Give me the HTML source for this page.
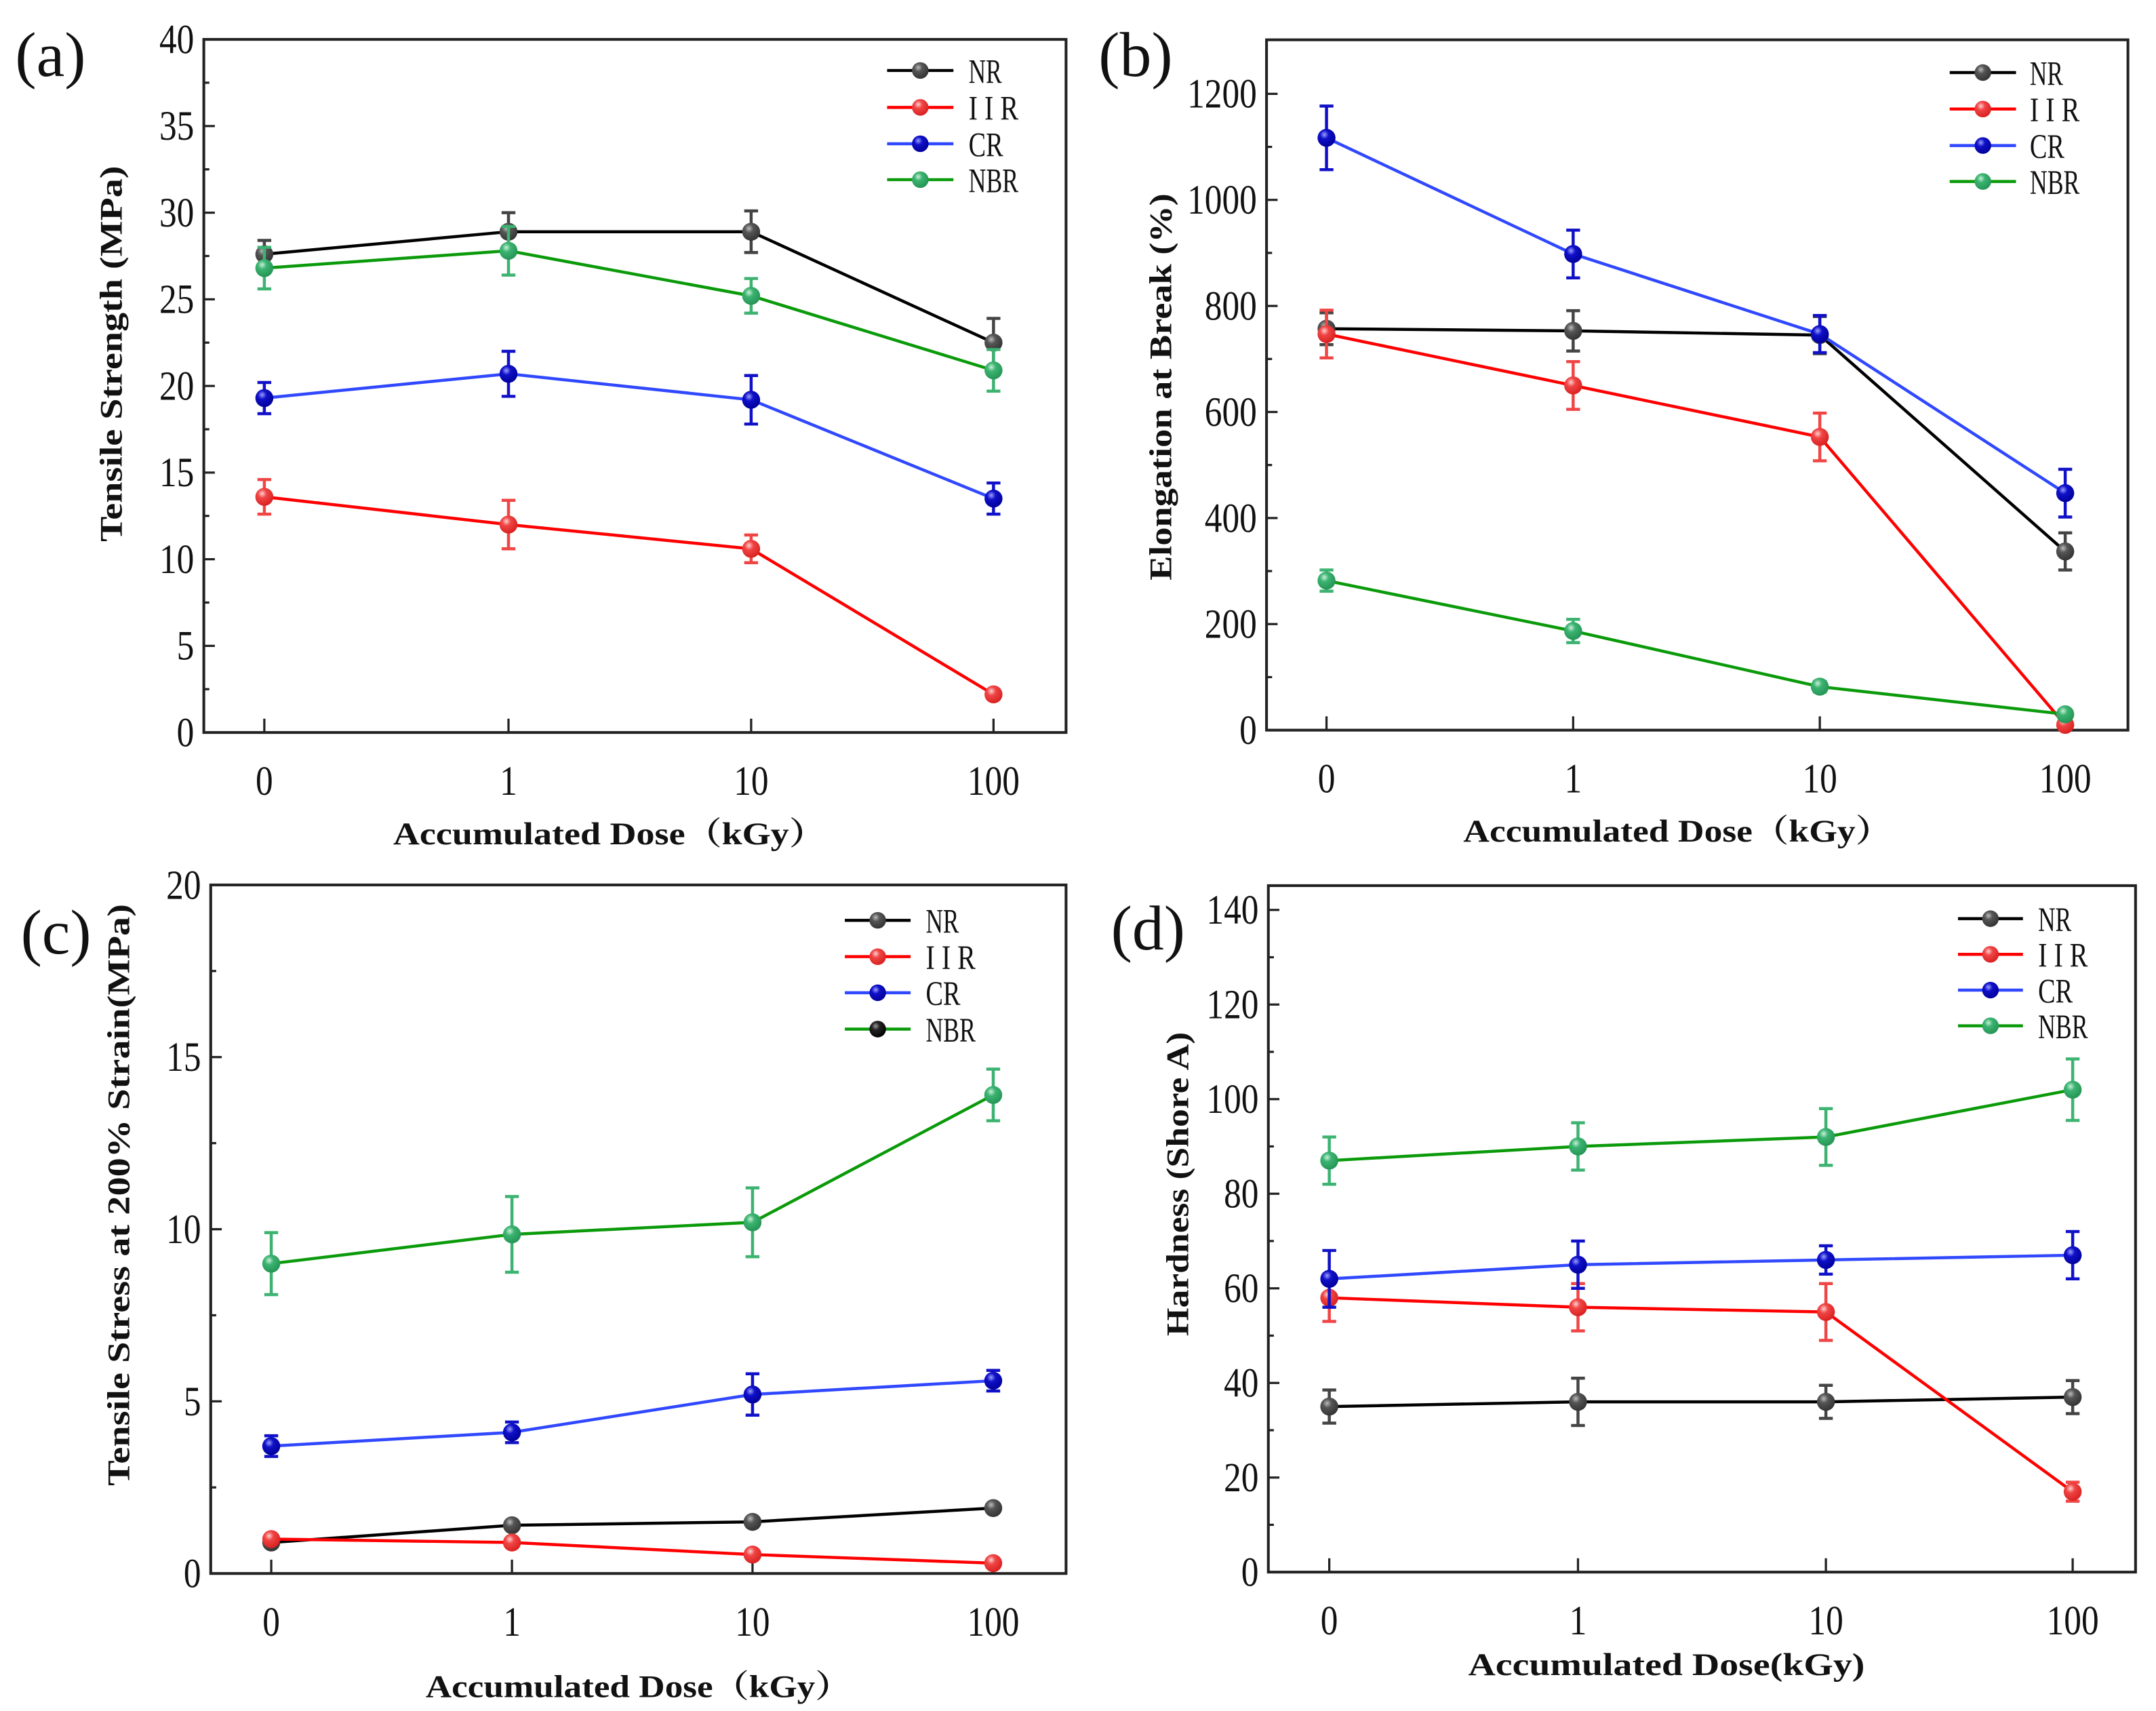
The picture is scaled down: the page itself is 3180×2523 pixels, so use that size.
<!DOCTYPE html>
<html><head><meta charset="utf-8"><style>
html,body{margin:0;padding:0;background:#fff;}
svg{display:block;}
text{font-family:"Liberation Serif",serif;fill:#111;}
</style></head><body>
<svg id="fig" xmlns="http://www.w3.org/2000/svg" width="3180" height="2523" viewBox="0 0 1560.3 1238" preserveAspectRatio="none">
<defs>
<radialGradient id="gNR" cx="0.38" cy="0.32" r="0.7"><stop offset="0" stop-color="#bbb"/><stop offset="0.35" stop-color="#555"/><stop offset="1" stop-color="#333"/></radialGradient>
<radialGradient id="gIIR" cx="0.38" cy="0.32" r="0.7"><stop offset="0" stop-color="#ffd0d0"/><stop offset="0.35" stop-color="#f04545"/><stop offset="1" stop-color="#d82020"/></radialGradient>
<radialGradient id="gCR" cx="0.38" cy="0.32" r="0.7"><stop offset="0" stop-color="#9aa0ff"/><stop offset="0.35" stop-color="#1010c8"/><stop offset="1" stop-color="#00009a"/></radialGradient>
<radialGradient id="gNBR" cx="0.38" cy="0.32" r="0.7"><stop offset="0" stop-color="#c8f0d8"/><stop offset="0.35" stop-color="#3cb371"/><stop offset="1" stop-color="#249455"/></radialGradient>
<radialGradient id="gBLK" cx="0.38" cy="0.32" r="0.7"><stop offset="0" stop-color="#999"/><stop offset="0.35" stop-color="#222"/><stop offset="1" stop-color="#000"/></radialGradient>
</defs>
</svg>
<script>
// ---- data ----
const categories = ["0","1","10","100"];
const seriesNames = ["NR","IIR","CR","NBR"];
// (a) tensile strength
const aNR = [27.6,28.9,28.9,22.5], aNRerr = [0.8,1.1,1.2,1.4];
const aIIR = [13.6,12.0,10.6,2.2], aIIRerr = [1.0,1.4,0.8,0.2];
const aCR = [19.3,20.7,19.2,13.5], aCRerr = [0.9,1.3,1.4,0.9];
const aNBR = [26.8,27.8,25.2,20.9], aNBRerr = [1.2,1.4,1.0,1.2];
const aTicks = [0,5,10,15,20,25,30,35,40];
// (b) elongation at break
const bNR = [757,753,745,337], bNRerr = [30,38,35,35];
const bIIR = [747,650,553,10], bIIRerr = [45,45,45,5];
const bCR = [1117,898,747,447], bCRerr = [60,45,35,45];
const bNBR = [282,187,82,30], bNBRerr = [20,22,10,5];
const bTicks = [0,200,400,600,800,1000,1200];
// (c) tensile stress at 200% strain
const cNR = [0.9,1.4,1.5,1.9], cNRerr = [0.08,0.1,0.1,0.1];
const cIIR = [1.0,0.9,0.55,0.3], cIIRerr = [0.08,0.08,0.08,0.05];
const cCR = [3.7,4.1,5.2,5.6], cCRerr = [0.3,0.3,0.6,0.3];
const cNBR = [9.0,9.85,10.2,13.9], cNBRerr = [0.9,1.1,1.0,0.75];
const cTicks = [0,5,10,15,20];
// (d) hardness
const dNR = [35,36,36,37], dNRerr = [3.5,5,3.5,3.5];
const dIIR = [58,56,55,17], dIIRerr = [5,5,6,2];
const dCR = [62,65,66,67], dCRerr = [6,5,3,5];
const dNBR = [87,90,92,102], dNBRerr = [5,5,6,6.5];
const dTicks = [0,20,40,60,80,100,120,140];

const NS = "http://www.w3.org/2000/svg";
const svg = document.getElementById('fig');
function mk(tag, attrs, parent){const e=document.createElementNS(NS,tag);for(const k in attrs)e.setAttribute(k,attrs[k]);(parent||svg).appendChild(e);return e;}
const lineCol = {NR:"#000",IIR:"#ff0000",CR:"#3048ff",NBR:"#0a9a0a"};
const errCol = {NR:"#444",IIR:"#f04545",CR:"#1010c8",NBR:"#3cb371"};

const panels = [
 {id:"a", L:147.5,R:771.5,T:28.5,B:530, ymax:40, ticks:aTicks, minor:2.5, cx:[191.3,368,543.6,719],
  data:{NR:[aNR,aNRerr],IIR:[aIIR,aIIRerr],CR:[aCR,aCRerr],NBR:[aNBR,aNBRerr]},
  label:"(a)", lx:11, ly:55, ytitle:"Tensile Strength (MPa)", ytx:80, yty:256, ytl:272,
  xtitle:"Accumulated Dose（kGy）", xtx:441, xty:611, xtl:313,
  leg:{x1:642,x2:690,tx:701,ys:[51,77.7,104,130]}, legBlackNBR:false},
 {id:"b", L:916.6,R:1540,T:28.8,B:528.3, ymax:null, ticks:bTicks, minor:100, cx:[960,1138.5,1317,1494.6], y1200:67.9,
  data:{NR:[bNR,bNRerr],IIR:[bIIR,bIIRerr],CR:[bCR,bCRerr],NBR:[bNBR,bNBRerr]},
  label:"(b)", lx:795, ly:55, ytitle:"Elongation at Break (%)", ytx:839.5, yty:280, ytl:280,
  xtitle:"Accumulated Dose（kGy）", xtx:1214, xty:609, xtl:310,
  leg:{x1:1411,x2:1459,tx:1469,ys:[52.5,78.9,105.3,131.3]}, legBlackNBR:false},
 {id:"c", L:152.5,R:771.5,T:640.3,B:1138.5, ymax:20, ticks:cTicks, minor:2.5, cx:[196.3,370.5,544.6,718.8],
  data:{NR:[cNR,cNRerr],IIR:[cIIR,cIIRerr],CR:[cCR,cCRerr],NBR:[cNBR,cNBRerr]},
  label:"(c)", lx:15, ly:690, ytitle:"Tensile Stress at 200% Strain(MPa)", ytx:85.4, yty:864.6, ytl:421,
  xtitle:"Accumulated Dose（kGy）", xtx:462, xty:1228, xtl:308,
  leg:{x1:611.4,x2:659,tx:670,ys:[665.9,692.2,718.3,744.6]}, legBlackNBR:true},
 {id:"d", L:917.9,R:1545.5,T:640.8,B:1137.5, ymax:null, ticks:dTicks, minor:10, cx:[962,1142,1321.4,1500], y140:658.4,
  data:{NR:[dNR,dNRerr],IIR:[dIIR,dIIRerr],CR:[dCR,dCRerr],NBR:[dNBR,dNBRerr]},
  label:"(d)", lx:804, ly:687, ytitle:"Hardness (Shore A)", ytx:852, yty:856.7, ytl:220,
  xtitle:"Accumulated Dose(kGy)", xtx:1206, xty:1212, xtl:287,
  leg:{x1:1417,x2:1464,tx:1475,ys:[664.7,690.5,716.4,742.2]}, legBlackNBR:false}
];

panels.forEach(p=>{
  const g = mk('g',{});
  
  
  let yv;
  if(p.id==='b'){const k=(p.B-p.y1200)/1200; yv=v=>p.B-v*k;}
  else if(p.id==='d'){const k=(p.B-p.y140)/140; yv=v=>p.B-v*k;}
  else {const k=(p.B-p.T)/p.ymax; yv=v=>p.B-v*k;}
  const xc = i=>p.cx[i];
  const fr = mk('rect',{x:p.L,y:p.T,width:p.R-p.L,height:p.B-p.T,fill:"none",stroke:"#222","stroke-width":2},g);
   
  const top = p.ticks[p.ticks.length-1];
  for(let v=0; v<=top+p.minor*0.5 && yv(v)>=p.T-0.5; v+=p.minor){
    const y=yv(v); const major = p.ticks.some(t=>Math.abs(t-v)<1e-6);
    mk('line',{x1:p.L,x2:p.L+(major?8:4),y1:y,y2:y,stroke:"#222","stroke-width":1.6},g);
  }
  p.ticks.forEach(t=>{
    const s=String(t);
    const tx = mk('text',{x:p.L-7,y:yv(t)+10,"text-anchor":"end","font-size":30,textLength:s.length*12.6,lengthAdjust:"spacingAndGlyphs"},g);
    tx.textContent=s;
     
  });
  categories.forEach((c,i)=>{
    mk('line',{x1:xc(i),x2:xc(i),y1:p.B,y2:p.B-10,stroke:"#222","stroke-width":1.6},g);
    const tx = mk('text',{x:xc(i),y:p.B+45,"text-anchor":"middle","font-size":30,textLength:c.length*12.6,lengthAdjust:"spacingAndGlyphs"},g);
    tx.textContent=c;
     
  });
  seriesNames.forEach(s=>{
    const vals=p.data[s][0];
    const pts=vals.map((v,i)=>xc(i)+','+yv(v)).join(' ');
    const pl=mk('polyline',{points:pts,fill:"none",stroke:lineCol[s],"stroke-width":2.2},g);
    
    
  });
  seriesNames.forEach(s=>{
    const vals=p.data[s][0], errs=p.data[s][1];
    vals.forEach((v,i)=>{
      const x=xc(i), y1=yv(v+errs[i]), y2=yv(v-errs[i]);
      const eb=mk('path',{d:`M${x},${y1}V${y2}M${x-5},${y1}H${x+5}M${x-5},${y2}H${x+5}`,stroke:errCol[s],"stroke-width":2.2,fill:"none"},g);
      
      
      const m=mk('circle',{cx:x,cy:yv(v),r:6.5,fill:`url(#g${s})`},g);
      
      
    });
  });
  seriesNames.forEach((s,i)=>{
    const y=p.leg.ys[i];
    const l=mk('line',{x1:p.leg.x1,x2:p.leg.x2,y1:y,y2:y,stroke:lineCol[s],"stroke-width":2.2},g);
    
    
    const grad = (p.legBlackNBR && s==='NBR') ? 'gBLK' : 'g'+s;
    mk('circle',{cx:(p.leg.x1+p.leg.x2)/2,cy:y,r:6,fill:`url(#${grad})`},g);
    const label = s==='IIR' ? 'I I R' : s;
    const w = s==='NR'?24:(s==='CR'?25:(s==='NBR'?36:36));
    const t=mk('text',{x:p.leg.tx,y:y+9,"font-size":25,textLength:w,lengthAdjust:"spacingAndGlyphs"},g);
    t.textContent = label;
    
    
  });
  const pl=mk('text',{x:p.lx,y:p.ly,"font-size":46},g);
  pl.textContent=p.label;
   
  const yt=mk('text',{x:0,y:0,"font-size":23,"font-weight":"bold","text-anchor":"middle",textLength:p.ytl,lengthAdjust:"spacingAndGlyphs",transform:`translate(${p.ytx+8},${p.yty}) rotate(-90)`},g);
  yt.textContent=p.ytitle;
   
  const xt=mk('text',{x:p.xtx,y:p.xty,"font-size":23,"font-weight":"bold","text-anchor":"middle",textLength:p.xtl,lengthAdjust:"spacingAndGlyphs"},g);
  xt.setAttribute('style','font-family:"Liberation Serif","Noto Serif CJK SC",serif');
  xt.textContent=p.xtitle;
   
});
</script>
</body></html>
